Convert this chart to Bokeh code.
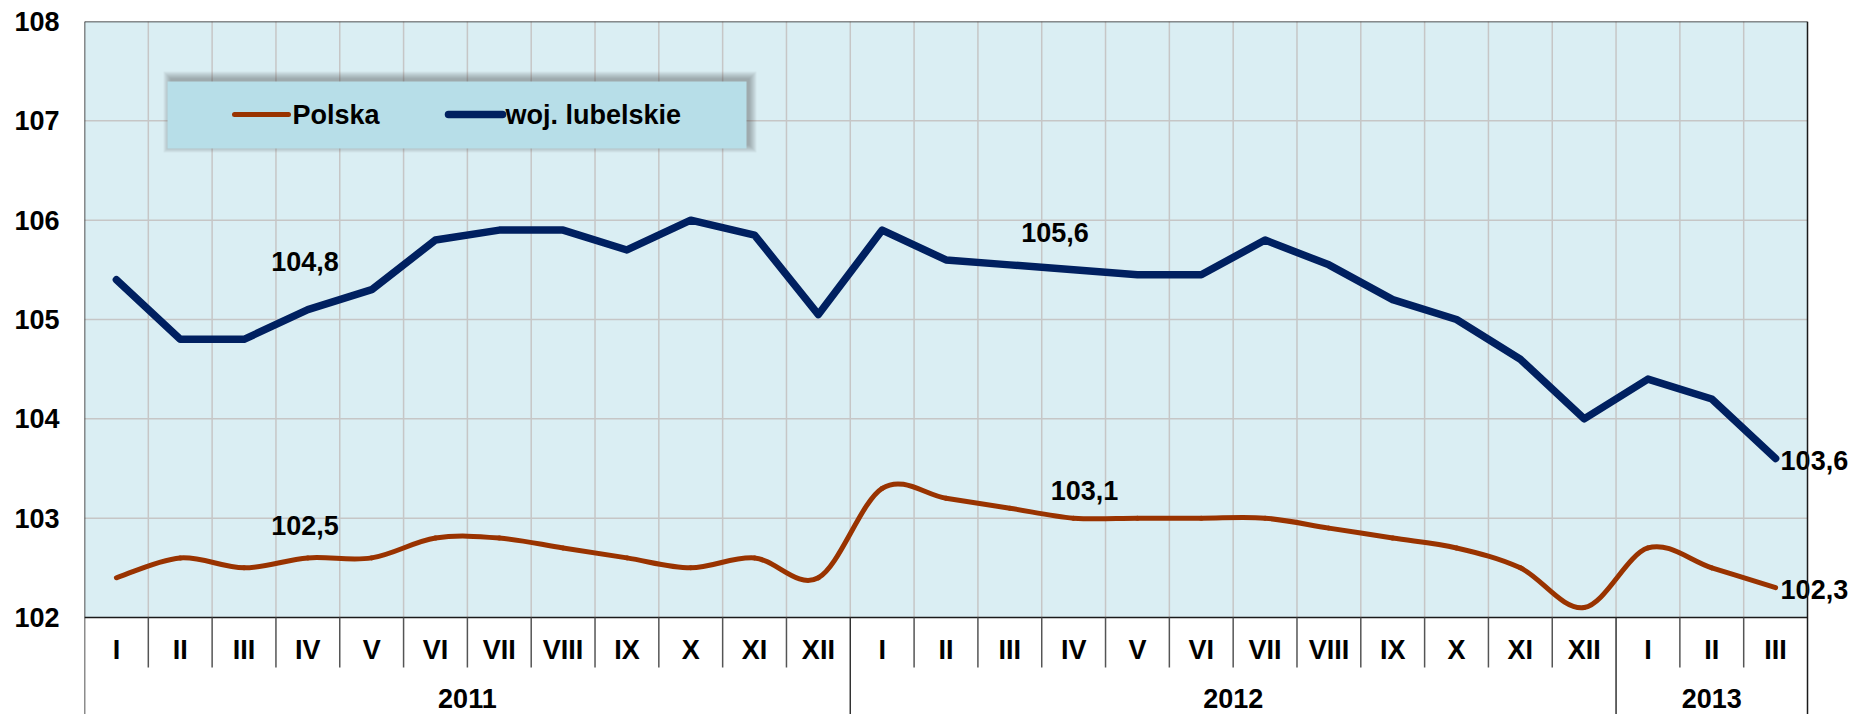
from bokeh.plotting import figure
from bokeh.models import Range1d, FixedTicker
from bokeh.embed import file_html
from bokeh.resources import INLINE
from bokeh.core.properties import value

# ---------------- data ----------------
months = ["I", "II", "III", "IV", "V", "VI", "VII", "VIII", "IX", "X", "XI", "XII",
          "I", "II", "III", "IV", "V", "VI", "VII", "VIII", "IX", "X", "XI", "XII",
          "I", "II", "III"]
years = ["2011", "2012", "2013"]
year_len = [12, 12, 3]
polska = [102.4, 102.6, 102.5, 102.6, 102.6, 102.8, 102.8, 102.7, 102.6, 102.5, 102.6, 102.4,
          103.3, 103.2, 103.1, 103.0, 103.0, 103.0, 103.0, 102.9, 102.8, 102.7, 102.5, 102.1,
          102.7, 102.5, 102.3]
lubelskie = [105.4, 104.8, 104.8, 105.1, 105.3, 105.8, 105.9, 105.9, 105.7, 106.0, 105.85, 105.05,
             105.9, 105.6, 105.55, 105.5, 105.45, 105.45, 105.8, 105.55, 105.2, 105.0, 104.6, 104.0,
             104.4, 104.2, 103.6]
series_names = ["Polska", "woj. lubelskie"]
avg_text = ["104,8", "102,5", "105,6", "103,1"]
last_text = ["103,6", "102,3"]
y_ticks = [102, 103, 104, 105, 106, 107, 108]

# ---------------- style / layout ----------------
FONT = "Liberation Sans"
RED = "#993300"
BLUE = "#002060"
PLOT_BG = "#DAEEF3"
LEG_BG = "#B7DEE8"
GRID = "#C6C6C6"
PX = 63.815      # px per month
PY = 99.333      # px per unit
LEFT, TOP = 84, 21
W, H = 1858, 714
N = len(months)
X_END = (W - LEFT) / PX
Y_TOP = 108
Y_BOT = Y_TOP - (H - TOP) / PY
Y_MIN = 102
ROW1 = Y_MIN - 50 / PY
MONTH_Y = Y_MIN - 33 / PY
YEAR_Y = Y_MIN - 81 / PY

xs = [i + 0.5 for i in range(N)]


def dx(px):
    return (px - LEFT) / PX


def dy(py):
    return Y_TOP - (py - TOP) / PY


p = figure(width=W, height=H, x_range=Range1d(0, X_END), y_range=Range1d(Y_BOT, Y_TOP),
           output_backend="svg", toolbar_location=None, x_axis_location=None,
           min_border_left=LEFT, min_border_top=TOP, min_border_right=0, min_border_bottom=0,
           background_fill_color="white", border_fill_color="white", outline_line_color=None)
p.grid.visible = False

ax = p.yaxis[0]
ax.ticker = FixedTicker(ticks=y_ticks)
ax.axis_line_color = None
ax.major_tick_line_color = None
ax.minor_tick_line_color = None
ax.major_label_standoff = 19
ax.major_label_text_font = FONT
ax.major_label_text_font_style = "bold"
ax.major_label_text_font_size = "27px"
ax.major_label_text_color = "black"

# plot area background
p.quad(left=[0], right=[N], bottom=[Y_MIN], top=[Y_TOP], fill_color=PLOT_BG, line_color=None)

# grid lines
vx = list(range(1, N))
p.segment(x0=vx, y0=[Y_MIN] * len(vx), x1=vx, y1=[Y_TOP] * len(vx), line_color=GRID, line_width=1.5)
hy = [t for t in y_ticks if Y_MIN < t < Y_TOP]
p.segment(x0=[0] * len(hy), y0=hy, x1=[N] * len(hy), y1=hy, line_color=GRID, line_width=1.5)

# legend box with soft shadow
lx0, lx1 = dx(167), dx(746)
ly1, ly0 = dy(81), dy(148)
for e in range(0, 8):
    ox, oy = 3 / PX, 3 / PY
    ex, ey = e / PX, e / PY
    p.quad(left=[lx0 + ox - ex], right=[lx1 + ox + ex], bottom=[ly0 + oy - ey], top=[ly1 + oy + ey],
           fill_color="#404040", fill_alpha=0.06, line_color=None)
p.quad(left=[lx0], right=[lx1], bottom=[ly0], top=[ly1], fill_color=LEG_BG, line_color=None)
leg_y = dy(114)
p.segment(x0=[dx(234)], y0=[leg_y], x1=[dx(288)], y1=[leg_y],
          line_color=RED, line_width=5, line_cap="round")
p.segment(x0=[dx(448)], y0=[leg_y], x1=[dx(502)], y1=[leg_y],
          line_color=BLUE, line_width=7.5, line_cap="round")
p.text(x=[dx(292), dx(505)], y=[leg_y, leg_y], text=series_names,
       text_font=value(FONT), text_font_style="bold", text_font_size="27px",
       text_align="left", text_baseline="middle", text_color="black")


# smoothed Polska line (Catmull-Rom -> cubic bezier segments through the data points)
def bezier_segments(x, y):
    n = len(x)
    d = dict(x0=[], y0=[], x1=[], y1=[], cx0=[], cy0=[], cx1=[], cy1=[])
    for i in range(n - 1):
        xp, yp = (x[i - 1], y[i - 1]) if i > 0 else (x[i], y[i])
        xn, yn = (x[i + 2], y[i + 2]) if i + 2 < n else (x[i + 1], y[i + 1])
        d["x0"].append(x[i]); d["y0"].append(y[i])
        d["x1"].append(x[i + 1]); d["y1"].append(y[i + 1])
        d["cx0"].append(x[i] + (x[i + 1] - xp) / 6); d["cy0"].append(y[i] + (y[i + 1] - yp) / 6)
        d["cx1"].append(x[i + 1] - (xn - x[i]) / 6); d["cy1"].append(y[i + 1] - (yn - y[i]) / 6)
    return d


b = bezier_segments(xs, polska)
p.bezier(x0=b["x0"], y0=b["y0"], x1=b["x1"], y1=b["y1"], cx0=b["cx0"], cy0=b["cy0"],
         cx1=b["cx1"], cy1=b["cy1"], line_color=RED, line_width=5, line_cap="round")

p.line(xs, lubelskie, line_color=BLUE, line_width=7.5, line_join="round", line_cap="round")

# value labels
lab_x = [dx(304.5), dx(304.5), dx(1054.5), dx(1084)]
lab_y = [dy(260.5), dy(525), dy(231.5), dy(490)]
p.text(x=lab_x, y=lab_y, text=avg_text, text_font=value(FONT), text_font_style="bold",
       text_font_size="27px", text_align="center", text_baseline="middle", text_color="black")
p.text(x=[xs[-1], xs[-1]], y=[lubelskie[-1], polska[-1]], text=last_text,
       text_font=value(FONT), text_font_style="bold", text_font_size="27px",
       text_align="left", text_baseline="middle", text_color="black", x_offset=5, y_offset=2)

# frame borders
p.segment(x0=[0, 0, 0, N], y0=[Y_TOP, Y_MIN, Y_TOP, Y_TOP], x1=[N, N, 0, N], y1=[Y_TOP, Y_MIN, Y_BOT, Y_BOT],
          line_color="#1a1a1a", line_width=1.5)

# category table: separators
year_edges = []
acc = 0
for L in year_len[:-1]:
    acc += L
    year_edges.append(acc)
msep = [i for i in range(1, N) if i not in year_edges]
p.segment(x0=msep, y0=[Y_MIN] * len(msep), x1=msep, y1=[ROW1] * len(msep),
          line_color="#555555", line_width=1.5)
p.segment(x0=year_edges, y0=[Y_MIN] * len(year_edges), x1=year_edges, y1=[Y_BOT] * len(year_edges),
          line_color="#333333", line_width=1.5)

# month labels
p.text(x=xs, y=[MONTH_Y] * N, text=months, text_font=value(FONT), text_font_style="bold",
       text_font_size="27px", text_align="center", text_baseline="middle", text_color="black")
# year labels
yc = []
acc = 0
for L in year_len:
    yc.append(acc + L / 2)
    acc += L
p.text(x=yc, y=[YEAR_Y] * len(years), text=years, text_font=value(FONT), text_font_style="bold",
       text_font_size="27px", text_align="center", text_baseline="middle", text_color="black")

open("out.html", "w").write(file_html(p, INLINE))
